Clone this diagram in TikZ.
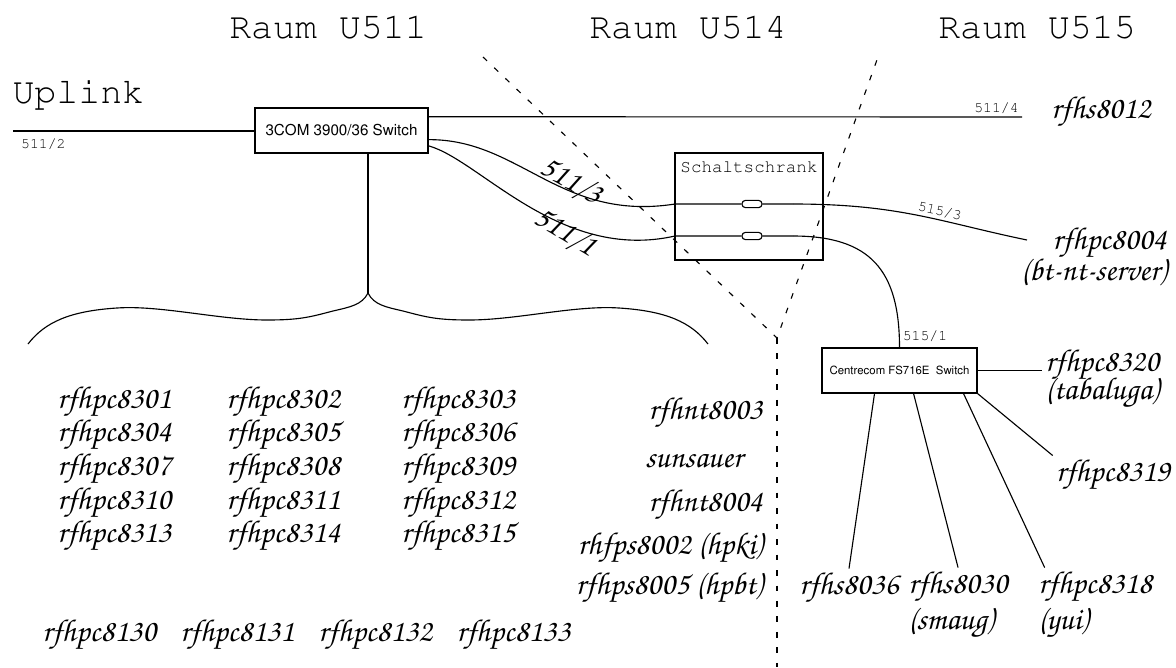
\documentclass[tikz,border=0pt]{standalone}
\usepackage[T1]{fontenc}
\usepackage{tikz}
\usetikzlibrary{positioning,calc}

\newcommand{\hostfont}{\fontfamily{pzc}\fontseries{mb}\fontshape{it}\fontsize{22.5}{21.3}\selectfont}
\newcommand{\roomfont}{\fontfamily{pcr}\fontseries{m}\fontshape{n}\fontsize{26}{28}\selectfont}
\newcommand{\portfont}{\fontfamily{pcr}\fontseries{m}\fontshape{n}\fontsize{10.5}{11}\selectfont}

\begin{document}
\begin{tikzpicture}[
  x=0.025cm, y=-0.025cm,
  line width=0.8pt,
  room/.style={font=\roomfont,inner sep=0pt},
  port/.style={font=\portfont,inner sep=2pt},
  switchbox/.style={rectangle,draw,minimum height=1.125cm,inner sep=0pt},
  host/.style={font=\hostfont,inner sep=2pt},
  plug/.style={rectangle,draw,fill=white,rounded corners=2.4pt,minimum width=0.5cm,minimum height=0.18cm,inner sep=0pt},
  wall/.style={dash pattern=on 4pt off 7pt},
]
\useasboundingbox (0,0) rectangle (1176,667);

% rooms
\node[room,anchor=base] (u511) at (328,38) {Raum U511};
\node[room,anchor=base] (u514) at (688,38) {Raum U514};
\node[room,anchor=base] (u515) at (1037,38) {Raum U515};
\node[room,anchor=base west] (uplink) at (12,103) {Uplink};

% switches and cabinet
\node[switchbox,minimum width=4.325cm,font=\fontfamily{phv}\fontsize{10.8}{12}\selectfont] (sw3com) at (341.5,130.5) {3COM 3900/36 Switch};
\node[switchbox,minimum width=3.875cm,font=\fontfamily{phv}\fontsize{8.1}{9}\selectfont] (centre) at (899.5,370.5) {Centrecom FS716E\ \ Switch};
\node[rectangle,draw,line width=2pt,minimum width=3.7cm,minimum height=2.675cm] (schrank) at (749,206.5) {};
\node[port,font=\fontfamily{pcr}\fontsize{12.5}{13}\selectfont,below=0.15cm of schrank.north] (schranklbl) {Schaltschrank};
\node[plug] (plug3) at (752,204) {};
\node[plug] (plug1) at (752,236) {};

\coordinate (upl) at (13,131);
\coordinate (e8012) at (1022,117);
\coordinate (e8004) at (1027,240);
\coordinate (p3in) at (675,204);
\coordinate (p3out) at (793,204);
\coordinate (p1in) at (675,236);
\coordinate (p1out) at (793,236);
\coordinate (cusp) at (368,293);

% hosts
\node[host,anchor=west] (h8012) at (1048,112) {rfhs8012};
\node[host,anchor=east,align=right] (h8004) at (1170,257) {rfhpc8004\\[-2.2pt](bt-nt-server)};
\node[host,anchor=west,align=left] (h8320) at (1042,379) {rfhpc8320\\[-3.6pt](tabaluga)};
\node[host] (h8319) at (1113,475) {rfhpc8319};
\node[host] (h8036) at (849,588) {rfhs8036};
\node[host,anchor=west,align=left] (h8030) at (905,605) {rfhs8030\\[2.8pt](smaug)};
\node[host,anchor=west,align=left] (h8318) at (1035,605) {rfhpc8318\\[2.8pt](yui)};

\node[host,anchor=west,align=left] (col1) at (54,469) {rfhpc8301\\rfhpc8304\\rfhpc8307\\rfhpc8310\\rfhpc8313};
\node[host,anchor=west,align=left] (col2) at (223,469) {rfhpc8302\\rfhpc8305\\rfhpc8308\\rfhpc8311\\rfhpc8314};
\node[host,anchor=west,align=left] (col3) at (398,469) {rfhpc8303\\rfhpc8306\\rfhpc8309\\rfhpc8312\\rfhpc8315};

\node[host,anchor=east] (h8003) at (766,413) {rfhnt8003};
\node[host] (sunsauer) at (694,461) {sunsauer};
\node[host,anchor=east] (h8004nt) at (766,505) {rfhnt8004};
\node[host,anchor=east] (h8002) at (766,548) {rhfps8002 (hpki)};
\node[host,anchor=east] (h8005) at (766,588) {rfhps8005 (hpbt)};

\node[host,anchor=west] (h8130) at (39,635) {rfhpc8130};
\node[host,right=0.435cm of h8130] (h8131) {rfhpc8131};
\node[host,right=0.435cm of h8131] (h8132) {rfhpc8132};
\node[host,right=0.435cm of h8132] (h8133) {rfhpc8133};

% room borders
\coordinate (wa) at (483,57);
\coordinate (wb) at (878,57);
\coordinate (wc) at (777,338);
\coordinate (wd) at (777,667);
\draw[wall] (wa) -- (wc) -- (wb);
\draw[wall] (wc) -- (wd);

% cables
\draw (upl) -- (upl -| sw3com.west) node[port,anchor=north west,pos=0.02,yshift=-3pt] {511/2};
\draw (sw3com.9) -- (e8012) node[port,anchor=south east,pos=1] {511/4};
\draw (sw3com.-6) .. controls (520,139) and (560,222) .. (p3in) -- (plug3) -- (p3out);
\draw (sw3com.-10) .. controls (480,160) and (560,262) .. (p1in) -- (plug1) -- (p1out);
\node[host,rotate=-29] (l5113) at (572,180) {511/3};
\node[host,rotate=-31] (l5111) at (566,231) {511/1};
\draw (p3out) .. controls (900,204) and (940,222) .. (e8004) node[port,sloped,above,pos=0.6] {515/3};
\draw (p1out) .. controls (870,236) and (899.5,270) .. (centre.north) node[port,anchor=south west,pos=1,yshift=2pt] {515/1};

\draw (centre.east) -- (centre.east -| h8320.west);
\draw ($(centre.south west)!.34!(centre.south east)$) -- (h8036.north);
\draw ($(centre.south west)!.59!(centre.south east)$) -- (h8030.north);
\draw ($(centre.south west)!.91!(centre.south east)$) -- ($(h8318.north west)!.08!(h8318.north east)$);
\draw (centre.south east) -- (h8319.north west);

% brace
\draw (cusp |- sw3com.south) -- (cusp);
\draw (cusp) .. controls (362,305) and (350,307) .. (333,311)
  .. controls (310,317) and (300,320) .. (267,320)
  .. controls (220,320) and (160,305) .. (117,308)
  .. controls (70,311) and (45,322) .. (28,344);
\draw (cusp) .. controls (374,305) and (386,307) .. (403,311)
  .. controls (426,317) and (436,320) .. (469,320)
  .. controls (516,320) and (576,305) .. (619,308)
  .. controls (666,311) and (691,322) .. (708,344);
\end{tikzpicture}
\end{document}
